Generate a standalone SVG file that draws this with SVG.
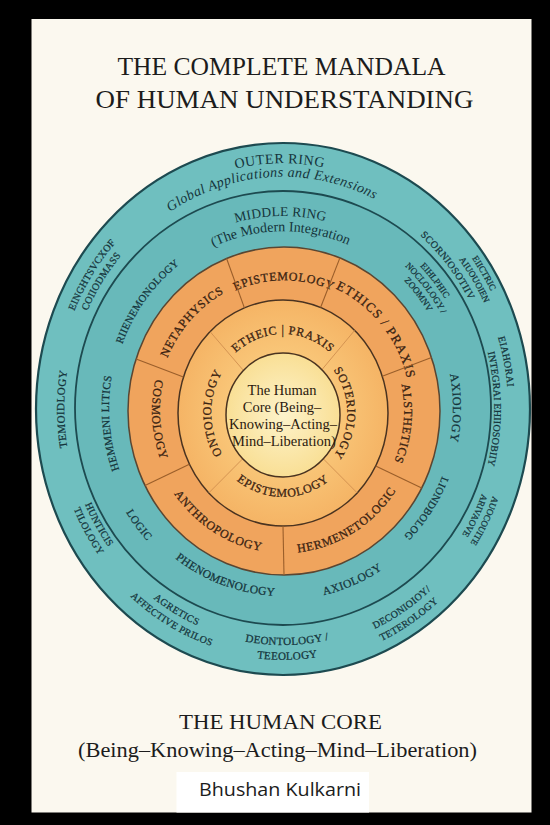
<svg xmlns="http://www.w3.org/2000/svg" width="550" height="825" viewBox="0 0 550 825">
<defs>
<style>
text{font-family:"Liberation Serif","DejaVu Serif",serif}
.sans{font-family:"Open Sans","Noto Sans",sans-serif}
.title{fill:#1c1c1c}
.tl{fill:#15343b;stroke:#15343b;stroke-width:0.25px}
.th{fill:#15343b}
.or{fill:#3b2312;stroke:#3b2312;stroke-width:0.3px}
.core{fill:#2b1a0e;text-anchor:middle}
.ring{stroke:#1d4a50}
.div{stroke:#9a5e2a;stroke-width:1.1}
.divf{stroke:#d08f4e;stroke-width:0.9}
</style>
<radialGradient id="coreG" cx="50%" cy="50%" r="50%">
<stop offset="0" stop-color="#fdf3cb"/>
<stop offset="1" stop-color="#f9df95"/>
</radialGradient>
<radialGradient id="innerG" cx="50%" cy="50%" r="50%">
<stop offset="0.5" stop-color="#f9c779"/>
<stop offset="1" stop-color="#f5b465"/>
</radialGradient>
<path id="p_outer" d="M58.5 366.3 A228 246 0 0 1 507.5 366.3"/>
<path id="p_global" d="M73.2 368.7 A213 232 0 0 1 492.8 368.7"/>
<path id="p_midt" d="M101.8 374.7 A184 192 0 0 1 464.2 374.7"/>
<path id="p_modern" d="M116.6 377.3 A169 177 0 0 1 449.4 377.3"/>
<path id="p_epio" d="M161.9 388.3 A124 131 0 0 1 406.1 388.3"/>
<path id="p_ethics" d="M218.6 296.1 A127 134 0 0 1 382.7 495.3"/>
<path id="p_alst" d="M317.1 288.9 A120 127 0 0 1 292.4 537.7"/>
<path id="p_herm" d="M180.6 502.3 A135 142 0 0 0 410.9 362.4"/>
<path id="p_anth" d="M158 360.1 A135 142 0 0 0 385.9 504.2"/>
<path id="p_cosm" d="M252.1 276.1 A132 139 0 0 0 270.2 549.2"/>
<path id="p_neta" d="M181.3 489.8 A127 134 0 0 1 355 299.9"/>
<path id="p_etheic" d="M211.1 399.3 A73 79 0 0 1 354.9 399.3"/>
<path id="p_soter" d="M294.1 345 A64 69 0 0 1 294.1 481"/>
<path id="p_epii" d="M206.2 427.6 A78 84 0 0 0 359.8 427.6"/>
<path id="p_onto" d="M270.5 488.8 A72 77 0 0 1 270.5 337.2"/>
<path id="p_rii" d="M155.2 528.4 A172 180 0 0 1 363.8 249.1"/>
<path id="p_hemm" d="M267.8 589.3 A174 182 0 0 1 238 232.2"/>
<path id="p_logic" d="M142.6 280.7 A186 194 0 0 0 373.2 577.7"/>
<path id="p_phen" d="M105.2 378.6 A180 188 0 0 0 440.4 499.1"/>
<path id="p_axb" d="M127 509.7 A184 192 0 0 0 463 368.1"/>
<path id="p_liond" d="M404.6 280.7 A172 180 0 0 1 210.3 571.1"/>
<path id="p_axr" d="M312.5 232.7 A170 178 0 0 1 312.5 583.3"/>
<path id="p_eih1" d="M186.5 233.1 A193 202 0 0 1 430.8 537.8"/>
<path id="p_eih2" d="M192 242.6 A182 191 0 0 1 422.4 530.8"/>
<path id="p_eih3" d="M197.5 252.1 A171 180 0 0 1 414 523.7"/>
<path id="p_eing1" d="M121.8 582.2 A228 245 0 0 1 379.4 187"/>
<path id="p_eing2" d="M130.3 573 A216 232 0 0 1 374.3 198.7"/>
<path id="p_temo" d="M245 639.4 A219 234 0 0 1 245 178.6"/>
<path id="p_hunt1" d="M137.8 235.9 A217 233 0 0 0 364.3 625"/>
<path id="p_hunt2" d="M129.8 226.2 A229 246 0 0 0 368.8 637.1"/>
<path id="p_agr1" d="M74.7 336.4 A219 235 0 0 0 455.6 553.7"/>
<path id="p_agr2" d="M62.3 332.1 A232 249 0 0 0 465.8 562.3"/>
<path id="p_deon1" d="M68 454 A219 236 0 0 0 499.3 445.9"/>
<path id="p_deon2" d="M54.3 456.9 A233 251 0 0 0 513.1 448.3"/>
<path id="p_deco1" d="M113.9 567.1 A224 241 0 0 0 492.1 322.6"/>
<path id="p_deco2" d="M104.1 576.3 A237 255 0 0 0 504.3 317.6"/>
<path id="p_eiah" d="M275.1 167.1 A225 242 0 0 1 367.3 633.4"/>
<path id="p_integ" d="M319.7 184.5 A211.5 228 0 0 1 319.7 633.5"/>
<path id="p_scor" d="M173.8 213.6 A212 228 0 0 1 447.7 552.5"/>
<path id="p_elec1" d="M187.4 177.9 A235 253 0 0 1 446.3 591"/>
<path id="p_elec2" d="M191.9 188.8 A224 241 0 0 1 438.6 582.4"/>
<path id="p_auo1" d="M424.6 220.9 A225 242 0 0 1 209.7 637.8"/>
<path id="p_auo2" d="M417.7 230.3 A214 230 0 0 1 213.3 626.5"/>
</defs>

<rect x="0" y="0" width="550" height="825" fill="#000"/>
<rect x="31.5" y="19" width="500" height="793.5" fill="#fbf8ef"/>

<g id="title">
<text class="title" x="281.5" y="75" font-size="26" text-anchor="middle" textLength="328" lengthAdjust="spacingAndGlyphs">THE COMPLETE MANDALA</text>
<text class="title" x="284.5" y="108" font-size="26" text-anchor="middle" textLength="378" lengthAdjust="spacingAndGlyphs">OF HUMAN UNDERSTANDING</text>
</g>

<g id="outer-ring">
<ellipse cx="283" cy="409" rx="247" ry="266" fill="#6fbfbf" class="ring" stroke-width="2.2"/>
<text class="th" text-anchor="middle" font-size="14" letter-spacing="0.5"><textPath href="#p_outer" startOffset="49.5%">OUTER RING</textPath></text>
<text class="th" text-anchor="middle" font-size="14" font-style="italic" letter-spacing="0.4"><textPath href="#p_global" startOffset="48%">Global Applications and Extensions</textPath></text>
<text class="tl" text-anchor="middle" font-size="10" letter-spacing="0.3"><textPath href="#p_eing1" startOffset="50%">EINGHTSVCXOF</textPath></text>
<text class="tl" text-anchor="middle" font-size="10" letter-spacing="0.3"><textPath href="#p_eing2" startOffset="50%">COIIODMASS</textPath></text>
<text class="tl" text-anchor="middle" font-size="11" letter-spacing="0.4"><textPath href="#p_temo" startOffset="50%">TEMOIDLOGY</textPath></text>
<text class="tl" text-anchor="middle" font-size="10" letter-spacing="0.3"><textPath href="#p_hunt1" startOffset="50%">HUNTICIS</textPath></text>
<text class="tl" text-anchor="middle" font-size="10" letter-spacing="0.3"><textPath href="#p_hunt2" startOffset="50%">TILOLOGY</textPath></text>
<text class="tl" text-anchor="middle" font-size="10" letter-spacing="0.4"><textPath href="#p_agr1" startOffset="50%">AGRETICS</textPath></text>
<text class="tl" text-anchor="middle" font-size="10" letter-spacing="0.3"><textPath href="#p_agr2" startOffset="50%">AFFECTIVE PRILOS</textPath></text>
<text class="tl" text-anchor="middle" font-size="11" letter-spacing="0.3"><textPath href="#p_deon1" startOffset="50%">DEONTOLOGY /</textPath></text>
<text class="tl" text-anchor="middle" font-size="11" letter-spacing="0.3"><textPath href="#p_deon2" startOffset="50%">TEEOLOGY</textPath></text>
<text class="tl" text-anchor="middle" font-size="10" letter-spacing="0.3"><textPath href="#p_deco1" startOffset="50%">DECONIOIOY/</textPath></text>
<text class="tl" text-anchor="middle" font-size="10" letter-spacing="0.3"><textPath href="#p_deco2" startOffset="50%">TETEROLOGY</textPath></text>
<text class="tl" text-anchor="middle" font-size="10" letter-spacing="0.3"><textPath href="#p_eiah" startOffset="50%">EIAHORAI</textPath></text>
<text class="tl" text-anchor="middle" font-size="10" letter-spacing="0.2"><textPath href="#p_integ" startOffset="50%">INTEGRAI EHIIOSOBIIY</textPath></text>
<text class="tl" text-anchor="middle" font-size="10" letter-spacing="0.4"><textPath href="#p_scor" startOffset="50%">SCORNIOSOTIIV</textPath></text>
<text class="tl" text-anchor="middle" font-size="9"><textPath href="#p_elec1" startOffset="50%">EIICTRIC</textPath></text>
<text class="tl" text-anchor="middle" font-size="9"><textPath href="#p_elec2" startOffset="50%">AIUOUOIEN</textPath></text>
<text class="tl" text-anchor="middle" font-size="9"><textPath href="#p_auo1" startOffset="50%">AUOCOUITE</textPath></text>
<text class="tl" text-anchor="middle" font-size="9"><textPath href="#p_auo2" startOffset="50%">ARIVAOVE</textPath></text>
</g>

<g id="middle-ring">
<ellipse cx="283" cy="408" rx="208" ry="217" fill="#68b9ba" class="ring" stroke-width="1.8"/>
<text class="th" text-anchor="middle" font-size="13.5" letter-spacing="0.2"><textPath href="#p_midt" startOffset="49.5%">MIDDLE RING</textPath></text>
<text class="th" text-anchor="middle" font-size="14"><textPath href="#p_modern" startOffset="49.5%">(The Modern Integration</textPath></text>
<text class="tl" text-anchor="middle" font-size="10.5" letter-spacing="0.3"><textPath href="#p_rii" startOffset="50%">RIIENEMONOLOGY</textPath></text>
<text class="tl" text-anchor="middle" font-size="11" letter-spacing="0.4"><textPath href="#p_hemm" startOffset="50%">HEMMENI LITICS</textPath></text>
<text class="tl" text-anchor="middle" font-size="11" letter-spacing="0.5"><textPath href="#p_logic" startOffset="50%">LOGIC</textPath></text>
<text class="tl" text-anchor="middle" font-size="11.5" letter-spacing="0.3"><textPath href="#p_phen" startOffset="50%">PHENOMENOLOGY</textPath></text>
<text class="tl" text-anchor="middle" font-size="11.5" letter-spacing="0.5"><textPath href="#p_axb" startOffset="50%">AXIOLOGY</textPath></text>
<text class="tl" text-anchor="middle" font-size="10.5" letter-spacing="0.3"><textPath href="#p_liond" startOffset="50%">LIONDBOLOG</textPath></text>
<text class="tl" text-anchor="middle" font-size="12" letter-spacing="0.6"><textPath href="#p_axr" startOffset="50%">AXIOLOGY</textPath></text>
<text class="tl" text-anchor="middle" font-size="9"><textPath href="#p_eih1" startOffset="50%">EIHLPHIC</textPath></text>
<text class="tl" text-anchor="middle" font-size="9"><textPath href="#p_eih2" startOffset="50%">NOCLOLOGY /</textPath></text>
<text class="tl" text-anchor="middle" font-size="9"><textPath href="#p_eih3" startOffset="50%">ZOOMNV</textPath></text>
</g>

<g id="orange-ring">
<ellipse cx="284" cy="411" rx="156" ry="164" fill="#f0a45d" stroke="#5a4632" stroke-width="1.5"/>
<text class="or" text-anchor="middle" font-size="12" letter-spacing="0.7"><textPath href="#p_epio" startOffset="50%">EPISTEMOLOGY</textPath></text>
<text class="or" text-anchor="middle" font-size="13" letter-spacing="1.2"><textPath href="#p_ethics" startOffset="50%">ETHICS / PRAXIS</textPath></text>
<text class="or" text-anchor="middle" font-size="12" letter-spacing="0.7"><textPath href="#p_alst" startOffset="50%">ALSTHETICS</textPath></text>
<text class="or" text-anchor="middle" font-size="12" letter-spacing="0.7"><textPath href="#p_herm" startOffset="50%">HERMENETOLOGIC</textPath></text>
<text class="or" text-anchor="middle" font-size="12" letter-spacing="0.7"><textPath href="#p_anth" startOffset="50%">ANTHROPOLOGY</textPath></text>
<text class="or" text-anchor="middle" font-size="12" letter-spacing="0.7"><textPath href="#p_cosm" startOffset="50%">COSMOLOGY</textPath></text>
<text class="or" text-anchor="middle" font-size="12" letter-spacing="0.7"><textPath href="#p_neta" startOffset="50%">NETAPHYSICS</textPath></text>
</g>

<g id="inner-ring">
<ellipse cx="283" cy="413" rx="105" ry="113" fill="url(#innerG)" stroke="#4a3320" stroke-width="1.5"/>
<text class="or" text-anchor="middle" font-size="12" letter-spacing="0.7"><textPath href="#p_etheic" startOffset="50%">ETHEIC | PRAXIS</textPath></text>
<text class="or" text-anchor="middle" font-size="12" letter-spacing="0.7"><textPath href="#p_soter" startOffset="50%">SOTERIOLOGY</textPath></text>
<text class="or" text-anchor="middle" font-size="12" letter-spacing="0.7"><textPath href="#p_epii" startOffset="50%">EPISTEMOLOGY</textPath></text>
<text class="or" text-anchor="middle" font-size="12" letter-spacing="0.7"><textPath href="#p_onto" startOffset="50%">ONTOIOLOGY</textPath></text>
</g>

<g id="connectors">
<line class="div" x1="244.4" y1="307.9" x2="226.6" y2="258.5"/>
<line class="div" x1="320.6" y1="307.5" x2="339.9" y2="257.9"/>
<line class="div" x1="382.3" y1="376.2" x2="431.5" y2="357.6"/>
<line class="div" x1="375.7" y1="466.1" x2="421.7" y2="488"/>
<line class="div" x1="283" y1="526" x2="284" y2="575"/>
<line class="div" x1="189.4" y1="464.3" x2="145" y2="485.5"/>
<line class="div" x1="183.4" y1="377.1" x2="136.1" y2="359"/>
<line class="divf" x1="243.4" y1="370.4" x2="210.1" y2="331.7"/>
<line class="divf" x1="321.9" y1="369.7" x2="354.6" y2="330.4"/>
<line class="divf" x1="323.3" y1="458.8" x2="357.2" y2="492.9"/>
<line class="divf" x1="242.7" y1="458.8" x2="208.8" y2="492.9"/>
</g>

<g id="core">
<ellipse cx="283" cy="415" rx="57" ry="62" fill="url(#coreG)" stroke="#4a3320" stroke-width="1.5"/>
<text class="core" x="282" y="395" font-size="14.5">The Human</text>
<text class="core" x="282" y="412" font-size="14.5">Core (Being–</text>
<text class="core" x="283" y="429" font-size="14.5">Knowing–Acting–</text>
<text class="core" x="284" y="446" font-size="14.5">Mind–Liberation)</text>
</g>

<g id="footer">
<text class="title" x="280.5" y="729" font-size="21" text-anchor="middle" textLength="203" lengthAdjust="spacingAndGlyphs">THE HUMAN  CORE</text>
<text class="title" x="277.5" y="756.5" font-size="21" text-anchor="middle" textLength="399" lengthAdjust="spacingAndGlyphs">(Being–Knowing–Acting–Mind–Liberation)</text>
<rect x="176.5" y="772" width="192.5" height="40.5" fill="#ffffff"/>
<text class="sans title" x="280" y="796" text-anchor="middle" font-size="18" textLength="162" lengthAdjust="spacingAndGlyphs">Bhushan Kulkarni</text>
</g>
</svg>
